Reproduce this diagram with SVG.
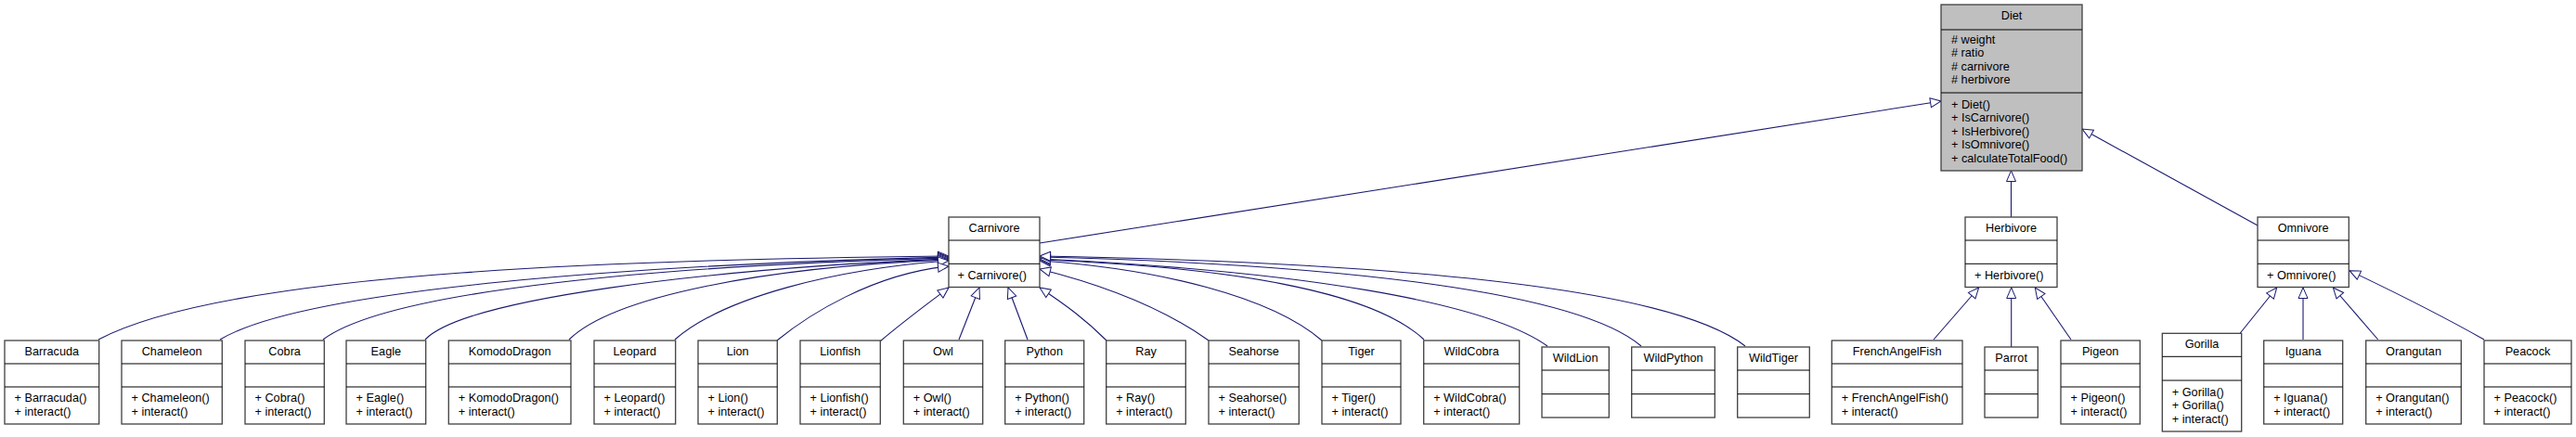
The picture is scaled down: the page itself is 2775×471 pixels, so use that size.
<svg xmlns="http://www.w3.org/2000/svg" width="2775" height="471" viewBox="0 0 2775 471">
<defs>
<style>
.node rect{fill:#ffffff;stroke:#404040;stroke-width:1.3}
.node.hl rect{fill:#bfbfbf}
.node line{stroke:#000;stroke-width:1}
.node text{font-family:"Liberation Sans",Arial,Helvetica,sans-serif;font-size:12.7px;fill:#000}
.node text.t{text-anchor:middle}
.edge path{fill:none;stroke:#191970;stroke-width:1.1;marker-end:url(#tri)}
</style>
<marker id="tri" viewBox="0 0 14 12" refX="13" refY="6" markerWidth="14" markerHeight="12" markerUnits="userSpaceOnUse" orient="auto"><path d="M1.5,1 L13,6 L1.5,11 Z" fill="#fff" stroke="#191970" stroke-width="1"/></marker>
</defs>
<rect width="2775" height="471" fill="#fff"/>
<g id="connectors" class="edge">
<path d="M1120,262 L2091,109"/>
<path d="M2166.5,234 L2166.5,184"/>
<path d="M2432,243 L2243,139"/>
<path d="M106,366 C250,290 700,280 1022,276"/>
<path d="M237,366 C330,310 700,285 1022,277"/>
<path d="M348,366 C420,312 720,286 1022,278"/>
<path d="M458,366 C500,322 760,290 1022,279"/>
<path d="M613,366 C660,320 820,288 1022,280"/>
<path d="M727,366 C780,320 900,290 1022,281"/>
<path d="M837,367 C870,340 940,295 1022,287"/>
<path d="M948,368 C975,345 1000,327 1022,310"/>
<path d="M1033,366 L1055,310"/>
<path d="M1107,366 L1086,310"/>
<path d="M1192,367 C1170,345 1150,330 1120,310"/>
<path d="M1302,367 C1250,330 1180,305 1120,290"/>
<path d="M1424,367 C1370,320 1250,290 1120,281"/>
<path d="M1534,366 C1480,315 1330,288 1120,280"/>
<path d="M1667,373 C1600,325 1400,292 1120,279"/>
<path d="M1768,373 C1700,315 1450,285 1120,277"/>
<path d="M1880,373 C1800,310 1500,283 1120,276"/>
<path d="M2083,366 L2131.7,310"/>
<path d="M2166.7,374 L2166.7,310"/>
<path d="M2231,366 L2192.3,310"/>
<path d="M2413.3,359 L2452.7,310"/>
<path d="M2481,366 L2481,310"/>
<path d="M2561.7,366 L2513.3,310"/>
<path d="M2676,366 C2630,340 2580,315 2531,291.7"/>
</g>
<g id="node-diet" class="node hl"><rect x="2091" y="5" width="152" height="179"/><line x1="2091" y1="32" x2="2243" y2="32"/><line x1="2091" y1="100" x2="2243" y2="100"/><text class="t" x="2167" y="21">Diet</text><text x="2102" y="46.5"># weight</text><text x="2102" y="61"># ratio</text><text x="2102" y="75.5"># carnivore</text><text x="2102" y="90"># herbivore</text><text x="2102" y="116.5">+ Diet()</text><text x="2102" y="131">+ IsCarnivore()</text><text x="2102" y="145.5">+ IsHerbivore()</text><text x="2102" y="160">+ IsOmnivore()</text><text x="2102" y="174.5">+ calculateTotalFood()</text></g>
<g id="node-carnivore" class="node"><rect x="1022" y="234" width="98" height="75.5"/><line x1="1022" y1="259" x2="1120" y2="259"/><line x1="1022" y1="284.3" x2="1120" y2="284.3"/><text class="t" x="1071" y="250">Carnivore</text><text x="1031.5" y="300.5">+ Carnivore()</text></g>
<g id="node-herbivore" class="node"><rect x="2117" y="234" width="99" height="75.5"/><line x1="2117" y1="259" x2="2216" y2="259"/><line x1="2117" y1="284.3" x2="2216" y2="284.3"/><text class="t" x="2166.5" y="250">Herbivore</text><text x="2127" y="300.5">+ Herbivore()</text></g>
<g id="node-omnivore" class="node"><rect x="2432" y="234" width="98.3" height="75.5"/><line x1="2432" y1="259" x2="2530.3" y2="259"/><line x1="2432" y1="284.3" x2="2530.3" y2="284.3"/><text class="t" x="2481.15" y="250">Omnivore</text><text x="2442" y="300.5">+ Omnivore()</text></g>
<g id="node-barracuda" class="node"><rect x="5" y="367" width="101.7" height="90"/><line x1="5" y1="392" x2="106.7" y2="392"/><line x1="5" y1="417" x2="106.7" y2="417"/><text class="t" x="55.85" y="383">Barracuda</text><text x="15.5" y="433">+ Barracuda()</text><text x="15.5" y="448">+ interact()</text></g>
<g id="node-chameleon" class="node"><rect x="131" y="367" width="108.3" height="90"/><line x1="131" y1="392" x2="239.3" y2="392"/><line x1="131" y1="417" x2="239.3" y2="417"/><text class="t" x="185.15" y="383">Chameleon</text><text x="141.5" y="433">+ Chameleon()</text><text x="141.5" y="448">+ interact()</text></g>
<g id="node-cobra" class="node"><rect x="264" y="367" width="85.3" height="90"/><line x1="264" y1="392" x2="349.3" y2="392"/><line x1="264" y1="417" x2="349.3" y2="417"/><text class="t" x="306.65" y="383">Cobra</text><text x="274.5" y="433">+ Cobra()</text><text x="274.5" y="448">+ interact()</text></g>
<g id="node-eagle" class="node"><rect x="373" y="367" width="85.7" height="90"/><line x1="373" y1="392" x2="458.7" y2="392"/><line x1="373" y1="417" x2="458.7" y2="417"/><text class="t" x="415.85" y="383">Eagle</text><text x="383.5" y="433">+ Eagle()</text><text x="383.5" y="448">+ interact()</text></g>
<g id="node-komododragon" class="node"><rect x="483.3" y="367" width="131.7" height="90"/><line x1="483.3" y1="392" x2="615" y2="392"/><line x1="483.3" y1="417" x2="615" y2="417"/><text class="t" x="549.15" y="383">KomodoDragon</text><text x="493.8" y="433">+ KomodoDragon()</text><text x="493.8" y="448">+ interact()</text></g>
<g id="node-leopard" class="node"><rect x="640" y="367" width="87.7" height="90"/><line x1="640" y1="392" x2="727.7" y2="392"/><line x1="640" y1="417" x2="727.7" y2="417"/><text class="t" x="683.85" y="383">Leopard</text><text x="650.5" y="433">+ Leopard()</text><text x="650.5" y="448">+ interact()</text></g>
<g id="node-lion" class="node"><rect x="752" y="367" width="85.3" height="90"/><line x1="752" y1="392" x2="837.3" y2="392"/><line x1="752" y1="417" x2="837.3" y2="417"/><text class="t" x="794.65" y="383">Lion</text><text x="762.5" y="433">+ Lion()</text><text x="762.5" y="448">+ interact()</text></g>
<g id="node-lionfish" class="node"><rect x="862" y="367" width="86.3" height="90"/><line x1="862" y1="392" x2="948.3" y2="392"/><line x1="862" y1="417" x2="948.3" y2="417"/><text class="t" x="905.15" y="383">Lionfish</text><text x="872.5" y="433">+ Lionfish()</text><text x="872.5" y="448">+ interact()</text></g>
<g id="node-owl" class="node"><rect x="973.3" y="367" width="85.4" height="90"/><line x1="973.3" y1="392" x2="1058.7" y2="392"/><line x1="973.3" y1="417" x2="1058.7" y2="417"/><text class="t" x="1016" y="383">Owl</text><text x="983.8" y="433">+ Owl()</text><text x="983.8" y="448">+ interact()</text></g>
<g id="node-python" class="node"><rect x="1082.7" y="367" width="85" height="90"/><line x1="1082.7" y1="392" x2="1167.7" y2="392"/><line x1="1082.7" y1="417" x2="1167.7" y2="417"/><text class="t" x="1125.2" y="383">Python</text><text x="1093.2" y="433">+ Python()</text><text x="1093.2" y="448">+ interact()</text></g>
<g id="node-ray" class="node"><rect x="1191.7" y="367" width="85.6" height="90"/><line x1="1191.7" y1="392" x2="1277.3" y2="392"/><line x1="1191.7" y1="417" x2="1277.3" y2="417"/><text class="t" x="1234.5" y="383">Ray</text><text x="1202.2" y="433">+ Ray()</text><text x="1202.2" y="448">+ interact()</text></g>
<g id="node-seahorse" class="node"><rect x="1302" y="367" width="97.3" height="90"/><line x1="1302" y1="392" x2="1399.3" y2="392"/><line x1="1302" y1="417" x2="1399.3" y2="417"/><text class="t" x="1350.65" y="383">Seahorse</text><text x="1312.5" y="433">+ Seahorse()</text><text x="1312.5" y="448">+ interact()</text></g>
<g id="node-tiger" class="node"><rect x="1424" y="367" width="85" height="90"/><line x1="1424" y1="392" x2="1509" y2="392"/><line x1="1424" y1="417" x2="1509" y2="417"/><text class="t" x="1466.5" y="383">Tiger</text><text x="1434.5" y="433">+ Tiger()</text><text x="1434.5" y="448">+ interact()</text></g>
<g id="node-wildcobra" class="node"><rect x="1533.7" y="367" width="103" height="90"/><line x1="1533.7" y1="392" x2="1636.7" y2="392"/><line x1="1533.7" y1="417" x2="1636.7" y2="417"/><text class="t" x="1585.2" y="383">WildCobra</text><text x="1544.2" y="433">+ WildCobra()</text><text x="1544.2" y="448">+ interact()</text></g>
<g id="node-wildlion" class="node"><rect x="1661" y="374" width="72.3" height="76"/><line x1="1661" y1="399" x2="1733.3" y2="399"/><line x1="1661" y1="424.7" x2="1733.3" y2="424.7"/><text class="t" x="1697.15" y="390">WildLion</text></g>
<g id="node-wildpython" class="node"><rect x="1757.7" y="374" width="89.6" height="76"/><line x1="1757.7" y1="399" x2="1847.3" y2="399"/><line x1="1757.7" y1="424.7" x2="1847.3" y2="424.7"/><text class="t" x="1802.5" y="390">WildPython</text></g>
<g id="node-wildtiger" class="node"><rect x="1871.7" y="374" width="77.6" height="76"/><line x1="1871.7" y1="399" x2="1949.3" y2="399"/><line x1="1871.7" y1="424.7" x2="1949.3" y2="424.7"/><text class="t" x="1910.5" y="390">WildTiger</text></g>
<g id="node-frenchangelfish" class="node"><rect x="1973.3" y="367" width="140.7" height="90"/><line x1="1973.3" y1="392" x2="2114" y2="392"/><line x1="1973.3" y1="417" x2="2114" y2="417"/><text class="t" x="2043.65" y="383">FrenchAngelFish</text><text x="1983.8" y="433">+ FrenchAngelFish()</text><text x="1983.8" y="448">+ interact()</text></g>
<g id="node-parrot" class="node"><rect x="2138" y="374" width="57.3" height="76"/><line x1="2138" y1="399" x2="2195.3" y2="399"/><line x1="2138" y1="424.7" x2="2195.3" y2="424.7"/><text class="t" x="2166.65" y="390">Parrot</text></g>
<g id="node-pigeon" class="node"><rect x="2220" y="367" width="85.3" height="90"/><line x1="2220" y1="392" x2="2305.3" y2="392"/><line x1="2220" y1="417" x2="2305.3" y2="417"/><text class="t" x="2262.65" y="383">Pigeon</text><text x="2230.5" y="433">+ Pigeon()</text><text x="2230.5" y="448">+ interact()</text></g>
<g id="node-gorilla" class="node"><rect x="2329.3" y="359.3" width="85.4" height="105.7"/><line x1="2329.3" y1="384.3" x2="2414.7" y2="384.3"/><line x1="2329.3" y1="410" x2="2414.7" y2="410"/><text class="t" x="2372" y="375.3">Gorilla</text><text x="2339.8" y="426.5">+ Gorilla()</text><text x="2339.8" y="441">+ Gorilla()</text><text x="2339.8" y="455.5">+ interact()</text></g>
<g id="node-iguana" class="node"><rect x="2438.7" y="367" width="85" height="90"/><line x1="2438.7" y1="392" x2="2523.7" y2="392"/><line x1="2438.7" y1="417" x2="2523.7" y2="417"/><text class="t" x="2481.2" y="383">Iguana</text><text x="2449.2" y="433">+ Iguana()</text><text x="2449.2" y="448">+ interact()</text></g>
<g id="node-orangutan" class="node"><rect x="2548.7" y="367" width="102.6" height="90"/><line x1="2548.7" y1="392" x2="2651.3" y2="392"/><line x1="2548.7" y1="417" x2="2651.3" y2="417"/><text class="t" x="2600" y="383">Orangutan</text><text x="2559.2" y="433">+ Orangutan()</text><text x="2559.2" y="448">+ interact()</text></g>
<g id="node-peacock" class="node"><rect x="2676" y="367" width="94" height="90"/><line x1="2676" y1="392" x2="2770" y2="392"/><line x1="2676" y1="417" x2="2770" y2="417"/><text class="t" x="2723" y="383">Peacock</text><text x="2686.5" y="433">+ Peacock()</text><text x="2686.5" y="448">+ interact()</text></g>
</svg>
